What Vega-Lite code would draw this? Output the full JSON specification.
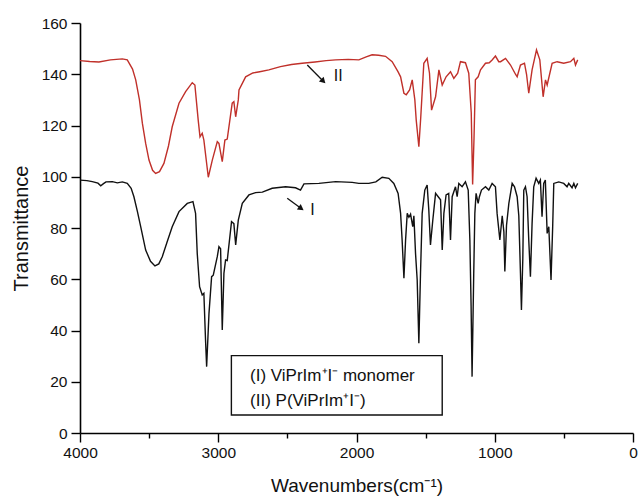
{
  "$schema": "https://vega.github.io/schema/vega-lite/v6.json",
  "autosize": {"type": "none"},
  "width": 553,
  "height": 410,
  "padding": {"left": 80, "top": 23, "right": 5, "bottom": 65},
  "config": {
    "font": "Liberation Sans",
    "view": {"stroke": null},
    "axis": {"grid": false, "domainColor": "#000", "tickColor": "#000", "labelColor": "#111", "titleColor": "#111", "labelFont": "Liberation Sans", "titleFont": "Liberation Sans", "titleFontWeight": "normal", "labelFontSize": 15.5, "titleFontSize": 19, "domainWidth": 1.6, "tickWidth": 1.4}
  },
  "datasets": {
    "spectra": [
      {"w":4000,"t":145.3,"s":"II"},{"w":3930,"t":145.0,"s":"II"},{"w":3863,"t":144.8,"s":"II"},{"w":3780,"t":145.6,"s":"II"},{"w":3694,"t":146.0,"s":"II"},{"w":3658,"t":145.6,"s":"II"},{"w":3620,"t":142,"s":"II"},{"w":3597,"t":137.8,"s":"II"},{"w":3570,"t":130,"s":"II"},{"w":3549,"t":120.9,"s":"II"},{"w":3525,"t":113,"s":"II"},{"w":3501,"t":106.5,"s":"II"},{"w":3475,"t":102.5,"s":"II"},{"w":3453,"t":101.3,"s":"II"},{"w":3425,"t":102,"s":"II"},{"w":3393,"t":105.2,"s":"II"},{"w":3360,"t":112,"s":"II"},{"w":3333,"t":119.5,"s":"II"},{"w":3284,"t":128.7,"s":"II"},{"w":3236,"t":133.2,"s":"II"},{"w":3188,"t":136.7,"s":"II"},{"w":3169,"t":135.8,"s":"II"},{"w":3145,"t":122.1,"s":"II"},{"w":3132,"t":115.6,"s":"II"},{"w":3116,"t":117,"s":"II"},{"w":3104,"t":114.3,"s":"II"},{"w":3072,"t":99.8,"s":"II"},{"w":3043,"t":106.5,"s":"II"},{"w":3007,"t":113.7,"s":"II"},{"w":2995,"t":113,"s":"II"},{"w":2971,"t":105.9,"s":"II"},{"w":2952,"t":114.3,"s":"II"},{"w":2935,"t":114.7,"s":"II"},{"w":2899,"t":128.7,"s":"II"},{"w":2887,"t":129.3,"s":"II"},{"w":2874,"t":123.4,"s":"II"},{"w":2855,"t":130,"s":"II"},{"w":2850,"t":133.9,"s":"II"},{"w":2802,"t":139,"s":"II"},{"w":2750,"t":140.5,"s":"II"},{"w":2700,"t":141,"s":"II"},{"w":2634,"t":141.7,"s":"II"},{"w":2550,"t":143,"s":"II"},{"w":2470,"t":143.8,"s":"II"},{"w":2393,"t":144.3,"s":"II"},{"w":2300,"t":144.8,"s":"II"},{"w":2220,"t":145.3,"s":"II"},{"w":2151,"t":145.6,"s":"II"},{"w":2060,"t":145.8,"s":"II"},{"w":1983,"t":145.6,"s":"II"},{"w":1930,"t":146.8,"s":"II"},{"w":1887,"t":147.6,"s":"II"},{"w":1840,"t":147.4,"s":"II"},{"w":1790,"t":147.0,"s":"II"},{"w":1742,"t":144.9,"s":"II"},{"w":1700,"t":141,"s":"II"},{"w":1681,"t":139,"s":"II"},{"w":1657,"t":132.6,"s":"II"},{"w":1640,"t":132,"s":"II"},{"w":1616,"t":133.9,"s":"II"},{"w":1597,"t":137.8,"s":"II"},{"w":1578,"t":130,"s":"II"},{"w":1568,"t":122.1,"s":"II"},{"w":1549,"t":111.7,"s":"II"},{"w":1535,"t":123.4,"s":"II"},{"w":1513,"t":144.3,"s":"II"},{"w":1489,"t":146.2,"s":"II"},{"w":1472,"t":140.4,"s":"II"},{"w":1457,"t":126,"s":"II"},{"w":1428,"t":131.2,"s":"II"},{"w":1404,"t":141.7,"s":"II"},{"w":1380,"t":135.8,"s":"II"},{"w":1352,"t":139,"s":"II"},{"w":1320,"t":141,"s":"II"},{"w":1296,"t":138.4,"s":"II"},{"w":1268,"t":140.4,"s":"II"},{"w":1248,"t":144.9,"s":"II"},{"w":1212,"t":144.5,"s":"II"},{"w":1188,"t":140.4,"s":"II"},{"w":1170,"t":125,"s":"II"},{"w":1160,"t":97,"s":"II"},{"w":1150,"t":115,"s":"II"},{"w":1140,"t":137.8,"s":"II"},{"w":1120,"t":139,"s":"II"},{"w":1103,"t":141.7,"s":"II"},{"w":1067,"t":144.3,"s":"II"},{"w":1040,"t":144.5,"s":"II"},{"w":1019,"t":145.6,"s":"II"},{"w":995,"t":147.1,"s":"II"},{"w":971,"t":144.9,"s":"II"},{"w":958,"t":144.9,"s":"II"},{"w":922,"t":146.2,"s":"II"},{"w":886,"t":143.6,"s":"II"},{"w":850,"t":140,"s":"II"},{"w":838,"t":139,"s":"II"},{"w":814,"t":143.6,"s":"II"},{"w":785,"t":144.3,"s":"II"},{"w":770,"t":140,"s":"II"},{"w":754,"t":132.6,"s":"II"},{"w":730,"t":141.7,"s":"II"},{"w":698,"t":149.5,"s":"II"},{"w":674,"t":145.6,"s":"II"},{"w":650,"t":131.2,"s":"II"},{"w":633,"t":137.8,"s":"II"},{"w":621,"t":135.8,"s":"II"},{"w":585,"t":144.3,"s":"II"},{"w":549,"t":144.9,"s":"II"},{"w":501,"t":144.3,"s":"II"},{"w":452,"t":144.9,"s":"II"},{"w":428,"t":146.2,"s":"II"},{"w":416,"t":143.6,"s":"II"},{"w":400,"t":145.6,"s":"II"},
      {"w":4000,"t":98.7,"s":"I"},{"w":3950,"t":98.5,"s":"I"},{"w":3911,"t":98.1,"s":"I"},{"w":3870,"t":97.5,"s":"I"},{"w":3850,"t":96.5,"s":"I"},{"w":3830,"t":97.3,"s":"I"},{"w":3812,"t":98,"s":"I"},{"w":3766,"t":98.1,"s":"I"},{"w":3730,"t":97.6,"s":"I"},{"w":3694,"t":98,"s":"I"},{"w":3658,"t":97.4,"s":"I"},{"w":3630,"t":95.5,"s":"I"},{"w":3610,"t":92.2,"s":"I"},{"w":3585,"t":86.5,"s":"I"},{"w":3561,"t":80.5,"s":"I"},{"w":3525,"t":71.4,"s":"I"},{"w":3490,"t":67,"s":"I"},{"w":3458,"t":65.2,"s":"I"},{"w":3430,"t":66,"s":"I"},{"w":3405,"t":68.8,"s":"I"},{"w":3370,"t":74.5,"s":"I"},{"w":3333,"t":80.5,"s":"I"},{"w":3284,"t":86.4,"s":"I"},{"w":3224,"t":89.6,"s":"I"},{"w":3183,"t":90.3,"s":"I"},{"w":3164,"t":85.7,"s":"I"},{"w":3152,"t":70.1,"s":"I"},{"w":3135,"t":57.1,"s":"I"},{"w":3116,"t":53.9,"s":"I"},{"w":3104,"t":54.5,"s":"I"},{"w":3092,"t":36.3,"s":"I"},{"w":3084,"t":25.9,"s":"I"},{"w":3067,"t":46.7,"s":"I"},{"w":3048,"t":61,"s":"I"},{"w":3036,"t":61.6,"s":"I"},{"w":3007,"t":68.8,"s":"I"},{"w":2995,"t":72.7,"s":"I"},{"w":2983,"t":71.9,"s":"I"},{"w":2971,"t":40.2,"s":"I"},{"w":2959,"t":62.3,"s":"I"},{"w":2947,"t":67.5,"s":"I"},{"w":2935,"t":67.3,"s":"I"},{"w":2904,"t":82.5,"s":"I"},{"w":2887,"t":81.7,"s":"I"},{"w":2874,"t":73.4,"s":"I"},{"w":2855,"t":83.1,"s":"I"},{"w":2826,"t":89.6,"s":"I"},{"w":2778,"t":92.9,"s":"I"},{"w":2730,"t":93.8,"s":"I"},{"w":2681,"t":94,"s":"I"},{"w":2610,"t":95.5,"s":"I"},{"w":2513,"t":96.1,"s":"I"},{"w":2441,"t":95.7,"s":"I"},{"w":2405,"t":94.8,"s":"I"},{"w":2380,"t":97.2,"s":"I"},{"w":2272,"t":97.4,"s":"I"},{"w":2151,"t":98.1,"s":"I"},{"w":2031,"t":97.8,"s":"I"},{"w":1983,"t":97.4,"s":"I"},{"w":1911,"t":97.4,"s":"I"},{"w":1860,"t":98,"s":"I"},{"w":1814,"t":99.8,"s":"I"},{"w":1766,"t":99.4,"s":"I"},{"w":1730,"t":97.4,"s":"I"},{"w":1699,"t":93.5,"s":"I"},{"w":1681,"t":85.7,"s":"I"},{"w":1670,"t":75.3,"s":"I"},{"w":1657,"t":60.4,"s":"I"},{"w":1645,"t":75.3,"s":"I"},{"w":1633,"t":85.7,"s":"I"},{"w":1621,"t":84.2,"s":"I"},{"w":1609,"t":85.4,"s":"I"},{"w":1593,"t":80.5,"s":"I"},{"w":1585,"t":84.8,"s":"I"},{"w":1573,"t":70.1,"s":"I"},{"w":1561,"t":59.7,"s":"I"},{"w":1549,"t":35,"s":"I"},{"w":1537,"t":62.3,"s":"I"},{"w":1525,"t":85.7,"s":"I"},{"w":1506,"t":94.8,"s":"I"},{"w":1489,"t":96.8,"s":"I"},{"w":1477,"t":87,"s":"I"},{"w":1465,"t":73.4,"s":"I"},{"w":1448,"t":83.1,"s":"I"},{"w":1428,"t":93.5,"s":"I"},{"w":1409,"t":92.2,"s":"I"},{"w":1392,"t":91,"s":"I"},{"w":1380,"t":71.4,"s":"I"},{"w":1368,"t":85.7,"s":"I"},{"w":1352,"t":92.9,"s":"I"},{"w":1333,"t":93.5,"s":"I"},{"w":1320,"t":75.3,"s":"I"},{"w":1308,"t":92.2,"s":"I"},{"w":1284,"t":96.1,"s":"I"},{"w":1272,"t":92.2,"s":"I"},{"w":1260,"t":97.4,"s":"I"},{"w":1236,"t":96.1,"s":"I"},{"w":1212,"t":98,"s":"I"},{"w":1192,"t":94.8,"s":"I"},{"w":1180,"t":75.3,"s":"I"},{"w":1171,"t":49.3,"s":"I"},{"w":1164,"t":22,"s":"I"},{"w":1152,"t":62.3,"s":"I"},{"w":1144,"t":85.7,"s":"I"},{"w":1135,"t":93.5,"s":"I"},{"w":1120,"t":89.6,"s":"I"},{"w":1111,"t":92.2,"s":"I"},{"w":1096,"t":94.8,"s":"I"},{"w":1067,"t":96.1,"s":"I"},{"w":1043,"t":94.8,"s":"I"},{"w":1019,"t":97.4,"s":"I"},{"w":995,"t":96.1,"s":"I"},{"w":983,"t":85.7,"s":"I"},{"w":963,"t":75.3,"s":"I"},{"w":946,"t":84.8,"s":"I"},{"w":934,"t":78.5,"s":"I"},{"w":927,"t":63,"s":"I"},{"w":915,"t":81,"s":"I"},{"w":898,"t":89.6,"s":"I"},{"w":874,"t":97.4,"s":"I"},{"w":857,"t":96.1,"s":"I"},{"w":838,"t":92.2,"s":"I"},{"w":826,"t":84.8,"s":"I"},{"w":814,"t":62.3,"s":"I"},{"w":807,"t":48,"s":"I"},{"w":797,"t":68,"s":"I"},{"w":790,"t":94.8,"s":"I"},{"w":778,"t":96.1,"s":"I"},{"w":766,"t":92.2,"s":"I"},{"w":754,"t":75.3,"s":"I"},{"w":742,"t":61,"s":"I"},{"w":730,"t":81.7,"s":"I"},{"w":718,"t":96.1,"s":"I"},{"w":701,"t":99.4,"s":"I"},{"w":682,"t":97.4,"s":"I"},{"w":670,"t":98.7,"s":"I"},{"w":658,"t":84.4,"s":"I"},{"w":646,"t":97.4,"s":"I"},{"w":634,"t":98.7,"s":"I"},{"w":621,"t":77.9,"s":"I"},{"w":609,"t":80.5,"s":"I"},{"w":593,"t":59.7,"s":"I"},{"w":581,"t":80.5,"s":"I"},{"w":573,"t":97.4,"s":"I"},{"w":537,"t":98,"s":"I"},{"w":501,"t":97.4,"s":"I"},{"w":477,"t":96.1,"s":"I"},{"w":465,"t":97.4,"s":"I"},{"w":441,"t":95.7,"s":"I"},{"w":428,"t":97.4,"s":"I"},{"w":416,"t":95.7,"s":"I"},{"w":400,"t":97.4,"s":"I"}
    ],
    "arrows": [
      {"label":"I","w":2501,"t":91.6,"w2":2400,"t2":87.6,"tw":2335,"tt":87},
      {"label":"II","w":2356,"t":143.6,"w2":2240,"t2":137.3,"tw":2165,"tt":139.3}
    ],
    "box": [{"w":2905,"w2":1380,"t":30.2,"t2":7.0}],
    "legendText": [
      {"w":2770,"t":22.3,"text":"(I) ViPrIm⁺I⁻ monomer"},
      {"w":2770,"t":12.3,"text":"(II) P(ViPrIm⁺I⁻)"}
    ]
  },
  "layer": [
    {
      "data": {"name": "spectra"},
      "mark": {"type": "line", "strokeWidth": 1.4, "clip": true},
      "encoding": {
        "x": {"field": "w", "type": "quantitative", "sort": null,
          "scale": {"domain": [0, 4000], "reverse": true, "nice": false},
          "axis": {"title": "Wavenumbers(cm⁻¹)", "values": [0,500,1000,1500,2000,2500,3000,3500,4000], "labelExpr": "datum.value % 1000 === 0 ? datum.label : ''", "format": "d", "labelFlush": false, "tickSize": {"condition": {"test": "datum.value % 1000 === 0", "value": 9}, "value": 5}, "labelPadding": 3, "titlePadding": 16}},
        "y": {"field": "t", "type": "quantitative",
          "scale": {"domain": [0, 160], "nice": false},
          "axis": {"title": "Transmittance", "titleFontSize": 20, "values": [0,10,20,30,40,50,60,70,80,90,100,110,120,130,140,150,160], "labelExpr": "datum.value % 20 === 0 ? datum.label : ''", "tickSize": {"condition": {"test": "datum.value % 20 === 0", "value": 9}, "value": 5}, "labelPadding": 4, "titlePadding": 10}},
        "color": {"field": "s", "type": "nominal", "scale": {"domain": ["I", "II"], "range": ["#111111", "#c0302a"]}, "legend": null},
        "detail": {"field": "s"}
      }
    },
    {
      "data": {"name": "arrows"},
      "mark": {"type": "rule", "color": "#111", "strokeWidth": 1.3},
      "encoding": {
        "x": {"field": "w", "type": "quantitative"},
        "y": {"field": "t", "type": "quantitative"},
        "x2": {"field": "w2"},
        "y2": {"field": "t2"}
      }
    },
    {
      "data": {"name": "arrows"},
      "transform": [{"filter": "datum.label === 'I'"}],
      "mark": {"type": "point", "shape": "triangle-up", "filled": true, "color": "#111", "size": 45, "angle": 125, "opacity": 1},
      "encoding": {
        "x": {"field": "w2", "type": "quantitative"},
        "y": {"field": "t2", "type": "quantitative"}
      }
    },
    {
      "data": {"name": "arrows"},
      "transform": [{"filter": "datum.label === 'II'"}],
      "mark": {"type": "point", "shape": "triangle-up", "filled": true, "color": "#111", "size": 45, "angle": 135, "opacity": 1},
      "encoding": {
        "x": {"field": "w2", "type": "quantitative"},
        "y": {"field": "t2", "type": "quantitative"}
      }
    },
    {
      "data": {"name": "arrows"},
      "mark": {"type": "text", "font": "Liberation Sans", "fontSize": 16, "color": "#111", "align": "left", "baseline": "middle"},
      "encoding": {
        "x": {"field": "tw", "type": "quantitative"},
        "y": {"field": "tt", "type": "quantitative"},
        "text": {"field": "label"}
      }
    },
    {
      "data": {"name": "box"},
      "mark": {"type": "rect", "fill": "#fff", "stroke": "#111", "strokeWidth": 1.4},
      "encoding": {
        "x": {"field": "w", "type": "quantitative"},
        "x2": {"field": "w2"},
        "y": {"field": "t", "type": "quantitative"},
        "y2": {"field": "t2"}
      }
    },
    {
      "data": {"name": "legendText"},
      "mark": {"type": "text", "font": "Liberation Sans", "fontSize": 17, "color": "#111", "align": "left", "baseline": "middle"},
      "encoding": {
        "x": {"field": "w", "type": "quantitative"},
        "y": {"field": "t", "type": "quantitative"},
        "text": {"field": "text"}
      }
    }
  ]
}
